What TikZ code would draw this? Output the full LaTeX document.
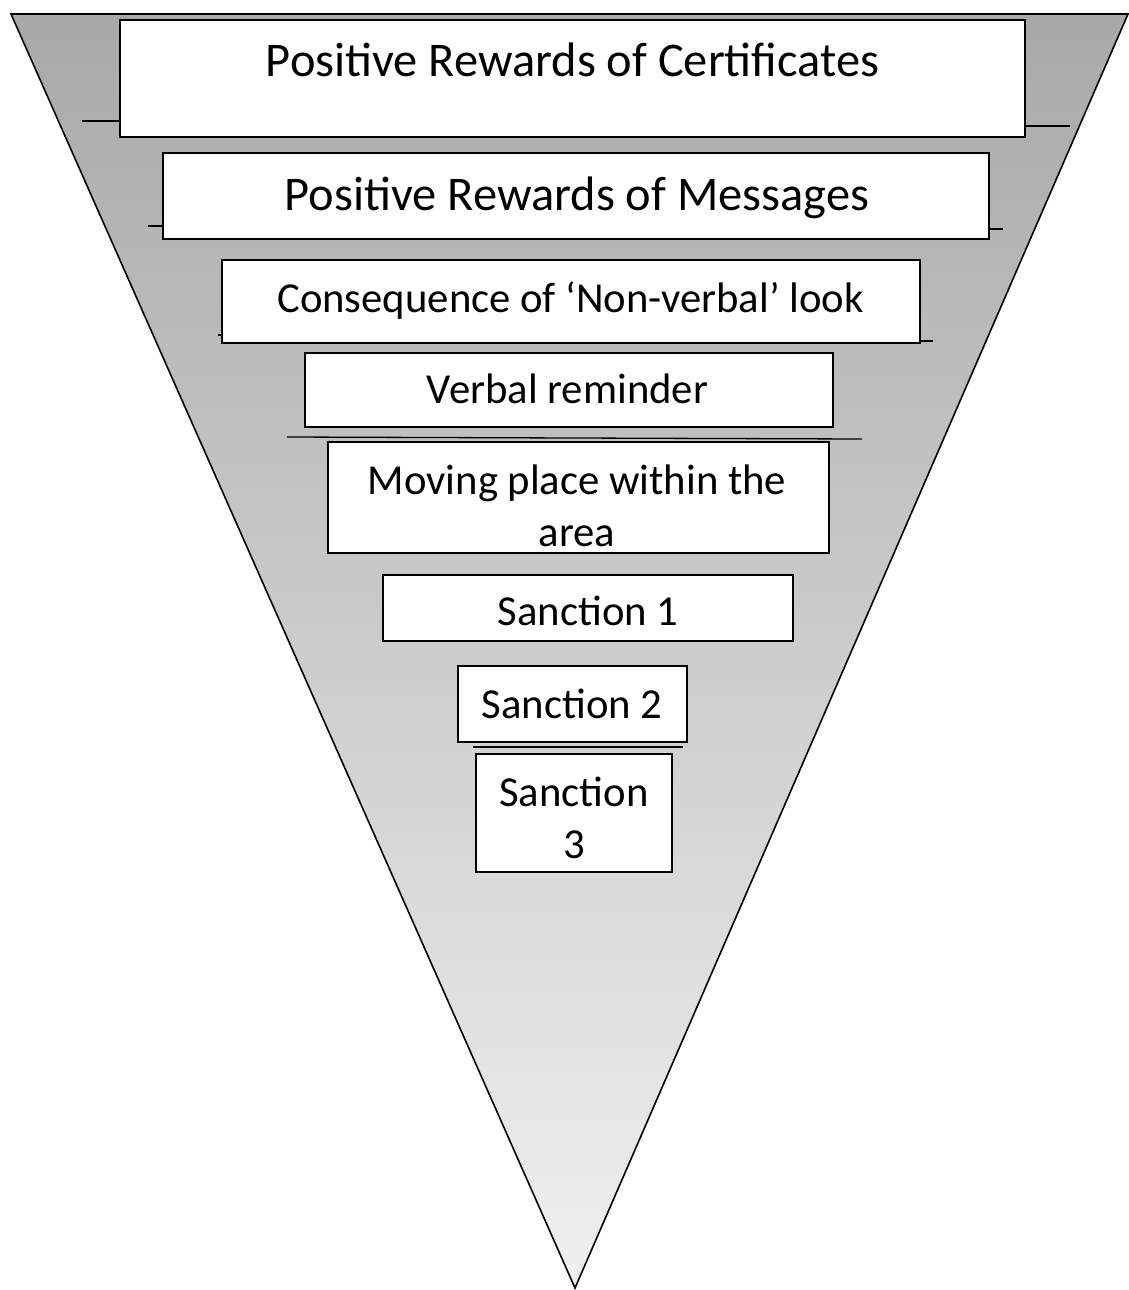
\documentclass[tikz,border=0pt]{standalone}
\usepackage{fontspec}
\setmainfont{Carlito}
\definecolor{gtop}{RGB}{168,168,168}
\definecolor{gbot}{RGB}{240,240,240}
\tikzset{
  box/.style={draw=black, line width=1.6pt, fill=white, rectangle, inner sep=0pt},
  big/.style={font=\fontsize{48.4}{59}\selectfont, inner sep=0pt, anchor=base},
  mid/.style={font=\fontsize{42.7}{51.5}\selectfont, inner sep=0pt, anchor=base, align=center},
  tick/.style={line width=1.3pt}
}
\newcommand{\boxat}[5]{\node[box, minimum width={#4-#2}, minimum height={#5-#3}] (#1) at ({(#2+#4)/2},{(#3+#5)/2}) {};}
\begin{document}
\begin{tikzpicture}[x=1pt,y=-1pt]
\useasboundingbox (0,0) rectangle (1129,1290);
% funnel
\shade[top color=gtop, bottom color=gbot] (11,14) -- (1128,14) -- (575,1288) -- cycle;
\draw[line width=1.6pt, line join=miter] (11,14) -- (1128,14) -- (575,1288) -- cycle;
% boxes
\boxat{b1}{120}{20}{1025}{137}
\boxat{b2}{163}{153}{989}{239}
\boxat{b3}{222}{260}{920}{343}
\boxat{b4}{305}{353}{833}{427}
\boxat{b5}{328}{442}{829}{553}
\boxat{b6}{383}{575}{793}{641}
\boxat{b7}{458}{666}{687}{742}
\boxat{b8}{476}{754}{672}{872}
% small lines
\draw[tick] (82,121) -- (b1.west |- 0,121);
\draw[tick] (b1.east |- 0,126) -- (1070,126);
\draw[tick] (148,226) -- (b2.west |- 0,226);
\draw[tick] (b2.east |- 0,229) -- (1003,229);
\draw[tick] (218,335) -- (b3.west |- 0,335);
\draw[tick] (b3.east |- 0,341) -- (933,341);
\draw[tick] (287,437) -- (862,439);
\draw[tick] (473,747) -- (683,747);
% texts
\node[big] (t1) at (572.5,77) {Positive Rewards of Certificates};
\node[big] (t2) at (577,210) {Positive Rewards of Messages};
\node[mid] (t3) at (570.5,312.5) {Consequence of ‘Non-verbal’ look};
\node[mid] (t4) at (567.5,403.5) {Verbal reminder};
\node[mid] (t5) at (577,546) {Moving place within the\\area};
\node[mid] (t6) at (588,625.5) {Sanction 1};
\node[mid] (t7) at (572,718.5) {Sanction 2};
\node[mid] (t8) at (574,858) {Sanction\\3};
\end{tikzpicture}
\end{document}
